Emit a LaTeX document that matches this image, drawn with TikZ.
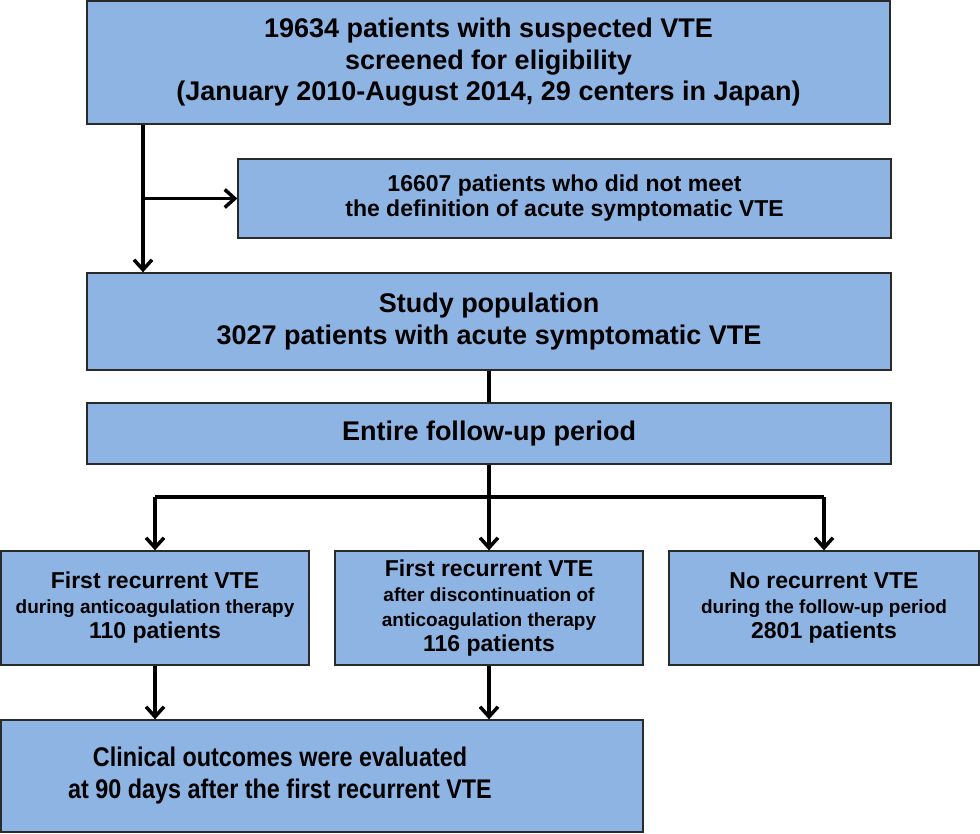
\documentclass[tikz,border=0pt]{standalone}
\usepackage{fontspec}
\setmainfont{Liberation Sans}
\newfontfamily\condfont[FakeStretch=0.866]{Liberation Sans}
\usepackage{xcolor}
\usetikzlibrary{arrows.meta}
\definecolor{boxfill}{HTML}{8EB4E3}
\definecolor{boxline}{HTML}{2A2A2A}

\newcommand{\subfont}{\fontsize{19}{25}\selectfont}

\begin{document}
\begin{tikzpicture}[
    x=1pt, y=-1pt,
    box/.style={rectangle, draw=boxline, fill=boxfill, line width=1.3pt, inner sep=0pt,
      align=center, font=\bfseries\fontsize{27}{31.5}\selectfont},
    midbox/.style={box, font=\bfseries\fontsize{23}{25}\selectfont},
    grpbox/.style={box, minimum height=114pt, font=\bfseries\fontsize{23}{25}\selectfont},
    lbl/.style={align=center, inner sep=0pt, font=\bfseries\condfont\fontsize{27}{32}\selectfont},
    arr/.style={draw=black, line width=3.5pt, -{Straight Barb[length=10pt, width=18pt, line width=3.5pt]}},
    wire/.style={draw=black, line width=3.5pt},
  ]
  \useasboundingbox (0,0) rectangle (980,834);

  % ================= screening and exclusion
  \node[box, minimum width=803pt, minimum height=123pt] (screen) at (488.5,62.5)
    {19634 patients with suspected VTE\\ screened for eligibility\\
     (January 2010-August 2014, 29 centers in Japan)};
  \node[midbox, minimum width=653pt, minimum height=79pt] (excl) at (564.5,198.5)
    {16607 patients who did not meet\\ the definition of acute symptomatic VTE};
  \node[box, minimum width=804pt, minimum height=97pt] (study) at (489,321.5)
    {Study population\\ 3027 patients with acute symptomatic VTE};
  \node[box, minimum width=804pt, minimum height=61pt] (follow) at (489,433.5)
    {Entire follow-up period};

  % ================= three outcome groups
  \node[grpbox, minimum width=308pt] (during) at (155,608)
    {First recurrent VTE\\ \subfont during anticoagulation therapy\\ 110 patients};
  \node[grpbox, minimum width=308pt] (after) at (489,608)
    {First recurrent VTE\\ \subfont after discontinuation of\\ \subfont anticoagulation therapy\\ 116 patients};
  \node[grpbox, minimum width=310pt] (norec) at (824,608)
    {No recurrent VTE\\ \subfont during the follow-up period\\ 2801 patients};
  \node[box, minimum width=642pt, minimum height=112pt] (outcome) at (322,776) {};
  \node[lbl] (outcometext) at ([xshift=-42pt]outcome.center)
    {Clinical outcomes were evaluated\\ at 90 days after the first recurrent VTE};

  % ================= connectors
  \coordinate (trunk) at (143,198.5);
  \draw[arr] (screen.south -| trunk) -- (study.north -| trunk);
  \draw[arr] (trunk) -- (excl.west);
  \draw[wire] (study.south) -- (follow.north);
  \coordinate (fork) at (489,497);
  \draw[wire] (follow.south) -- (fork);
  \draw[wire] (fork -| during.north) -- (fork -| norec.north);
  \draw[arr] (fork -| during.north) -- (during.north);
  \draw[arr] (fork) -- (after.north);
  \draw[arr] (fork -| norec.north) -- (norec.north);
  \draw[arr] (during.south) -- (outcome.north -| during.south);
  \draw[arr] (after.south) -- (outcome.north -| after.south);
\end{tikzpicture}
\end{document}
